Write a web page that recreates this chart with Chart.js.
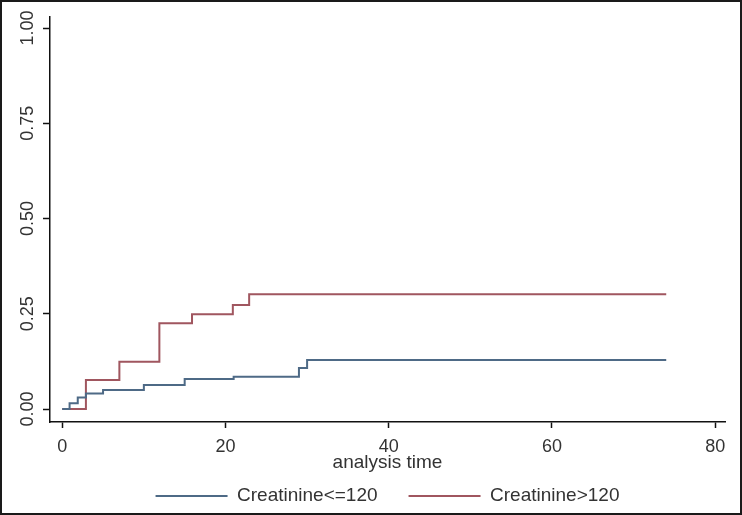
<!DOCTYPE html>
<html>
<head>
<meta charset="utf-8">
<script src="https://cdn.jsdelivr.net/npm/chart.js@4.4.1/dist/chart.umd.min.js"></script>
<style>
  body { margin: 0; background: #fff; }
  #frame { width: 742px; height: 515px; box-sizing: border-box; border: 2px solid #1a1a1a; background: #fff; }
  canvas { display: block; }
</style>
</head>
<body>
<div id="frame"><canvas id="kmChart" width="738" height="511"></canvas></div>
<script>
// cumulative incidence by creatinine group
let lowTimes  = [0, 0.9, 1.9, 2.9, 5, 10, 15, 21, 29, 30, 74];
let lowRisk   = [0, 0.015, 0.030, 0.041, 0.050, 0.063, 0.079, 0.085, 0.108, 0.129, 0.129];
let highTimes = [0, 2.9, 7, 11.9, 15.9, 20.9, 22.9, 74];
let highRisk  = [0, 0.076, 0.124, 0.225, 0.249, 0.273, 0.301, 0.301];

let xTicks = [0, 20, 40, 60, 80];
let yTicks = [0, 0.25, 0.5, 0.75, 1];

let lowColor = '#4e6a86';
let highColor = '#a0565f';
let textColor = '#333';

Chart.defaults.font.family = "'Liberation Sans', Arial, sans-serif";

function toPoints(times, vals) {
    return times.map((t, i) => ({ x: t, y: vals[i] }));
}

// y tick labels are rotated (read bottom to top)
let rotatedYLabels = {
    id: 'rotatedYLabels',
    afterDraw: function(c) {
        let ctx = c.ctx;
        let y = c.scales.y;
        ctx.save();
        ctx.fillStyle = textColor;
        ctx.font = "18px 'Liberation Sans', Arial, sans-serif";
        ctx.textAlign = 'center';
        ctx.textBaseline = 'alphabetic';
        y.ticks.forEach(function(t) {
            let py = y.getPixelForValue(t.value);
            ctx.save();
            ctx.translate(31, py);
            ctx.rotate(-Math.PI / 2);
            ctx.fillText(t.value.toFixed(2), 0, 0);
            ctx.restore();
        });
        ctx.restore();
    }
};

new Chart(document.getElementById('kmChart'), {
    type: 'line',
    data: {
        datasets: [
            {
                label: 'Creatinine<=120',
                data: toPoints(lowTimes, lowRisk),
                borderColor: lowColor,
                backgroundColor: lowColor,
                borderWidth: 2,
                pointRadius: 0,
                stepped: 'before'
            },
            {
                label: 'Creatinine>120',
                data: toPoints(highTimes, highRisk),
                borderColor: highColor,
                backgroundColor: highColor,
                borderWidth: 2,
                pointRadius: 0,
                stepped: 'before'
            }
        ]
    },
    options: {
        responsive: false,
        animation: false,
        layout: { padding: { top: 15, right: 15, bottom: -2.5, left: 0 } },
        scales: {
            x: {
                type: 'linear',
                min: -1.5,
                max: 81.2,
                afterBuildTicks: function(s) { s.ticks = xTicks.map(v => ({ value: v })); },
                afterFit: function(s) { s.height = 33.5; },
                grid: { drawOnChartArea: false, drawTicks: true, tickLength: 6, tickColor: '#111', tickWidth: 1.5 },
                border: { display: true, color: '#111', width: 1.5 },
                ticks: { color: textColor, font: { size: 18 }, padding: 8, maxRotation: 0 },
                title: {
                    display: true,
                    text: 'analysis time',
                    color: textColor,
                    font: { size: 19 },
                    padding: { top: 0, bottom: -19 }
                }
            },
            y: {
                min: -0.034,
                max: 1.029,
                afterBuildTicks: function(s) { s.ticks = yTicks.map(v => ({ value: v })); },
                afterFit: function(s) { s.width = 48; },
                grid: { drawOnChartArea: false, drawTicks: true, tickLength: 7, tickColor: '#111', tickWidth: 1.5 },
                border: { display: true, color: '#111', width: 1.5 },
                ticks: { display: false }
            }
        },
        plugins: {
            legend: {
                position: 'bottom',
                fullSize: false,
                labels: {
                    color: textColor,
                    font: { size: 19 },
                    boxWidth: 72,
                    boxHeight: 2,
                    padding: 31,
                    generateLabels: function(c) {
                        let items = Chart.defaults.plugins.legend.labels.generateLabels(c);
                        items.forEach(function(it) {
                            it.fillStyle = it.strokeStyle;
                            it.lineWidth = 0;
                        });
                        return items;
                    }
                }
            },
            tooltip: { enabled: false }
        }
    },
    plugins: [rotatedYLabels]
});
</script>
</body>
</html>
